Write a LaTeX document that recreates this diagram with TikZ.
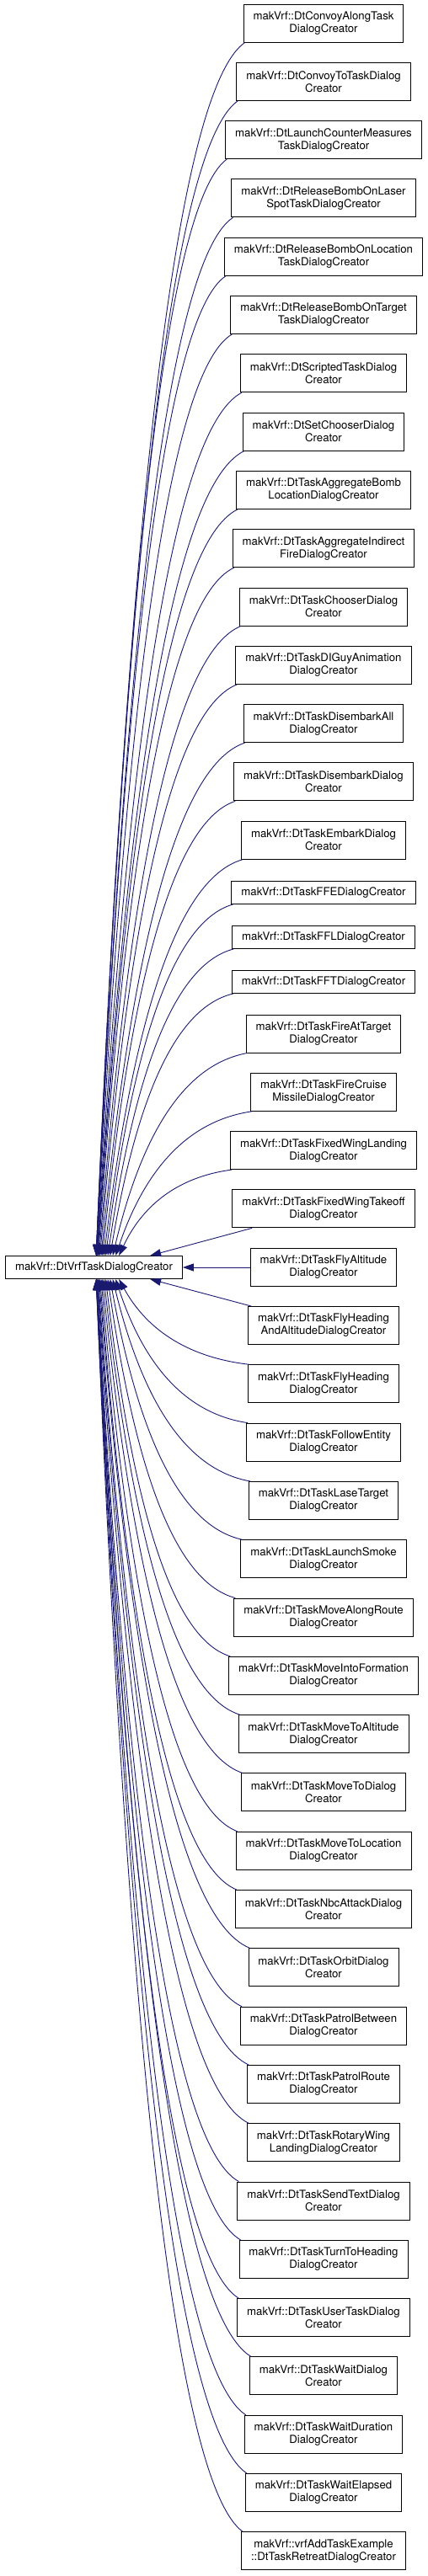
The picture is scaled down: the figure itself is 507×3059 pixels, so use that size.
\documentclass[tikz,border=0pt]{standalone}
\usepackage{fontspec}
\setmainfont{TeX Gyre Heros}
\usetikzlibrary{arrows.meta,calc}
\definecolor{edgeblue}{HTML}{191970}
\tikzset{
  box/.style={draw=black, line width=0.9pt, fill=white, align=center, inner xsep=11.5pt, inner ysep=0pt, minimum height=45pt, font=\fontsize{13.2}{15}\selectfont},
  sbox/.style={box, minimum height=27pt},
  edge/.style={draw=edgeblue, line width=0.9pt, -{Triangle[length=13pt,width=9pt]}}
}
\begin{document}
\begin{tikzpicture}[x=1pt,y=-1pt]
\useasboundingbox (0,0) rectangle (507,3059);
\node[sbox] (p) at (111.5,1505) {makVrf::DtVrfTaskDialogCreator};
\node[box] (n1) at (384,27.5) {makVrf::DtConvoyAlongTask\\DialogCreator};
\node[box] (n2) at (384,96.8) {makVrf::DtConvoyToTaskDialog\\Creator};
\node[box] (n3) at (384,166.1) {makVrf::DtLaunchCounterMeasures\\TaskDialogCreator};
\node[box] (n4) at (384,235.4) {makVrf::DtReleaseBombOnLaser\\SpotTaskDialogCreator};
\node[box] (n5) at (384,304.7) {makVrf::DtReleaseBombOnLocation\\TaskDialogCreator};
\node[box] (n6) at (384,374.0) {makVrf::DtReleaseBombOnTarget\\TaskDialogCreator};
\node[box] (n7) at (384,443.3) {makVrf::DtScriptedTaskDialog\\Creator};
\node[box] (n8) at (384,512.6) {makVrf::DtSetChooserDialog\\Creator};
\node[box] (n9) at (384,581.9) {makVrf::DtTaskAggregateBomb\\LocationDialogCreator};
\node[box] (n10) at (384,651.2) {makVrf::DtTaskAggregateIndirect\\FireDialogCreator};
\node[box] (n11) at (384,720.5) {makVrf::DtTaskChooserDialog\\Creator};
\node[box] (n12) at (384,789.8) {makVrf::DtTaskDIGuyAnimation\\DialogCreator};
\node[box] (n13) at (384,859.1) {makVrf::DtTaskDisembarkAll\\DialogCreator};
\node[box] (n14) at (384,928.4) {makVrf::DtTaskDisembarkDialog\\Creator};
\node[box] (n15) at (384,997.7) {makVrf::DtTaskEmbarkDialog\\Creator};
\node[sbox] (n16) at (384,1060) {makVrf::DtTaskFFEDialogCreator};
\node[sbox] (n17) at (384,1113) {makVrf::DtTaskFFLDialogCreator};
\node[sbox] (n18) at (384,1166) {makVrf::DtTaskFFTDialogCreator};
\node[box] (n19) at (384,1227.5) {makVrf::DtTaskFireAtTarget\\DialogCreator};
\node[box] (n20) at (384,1296.8) {makVrf::DtTaskFireCruise\\MissileDialogCreator};
\node[box] (n21) at (384,1366.1) {makVrf::DtTaskFixedWingLanding\\DialogCreator};
\node[box] (n22) at (384,1435.4) {makVrf::DtTaskFixedWingTakeoff\\DialogCreator};
\node[box] (n23) at (384,1505) {makVrf::DtTaskFlyAltitude\\DialogCreator};
\node[box] (n24) at (384,1574.0) {makVrf::DtTaskFlyHeading\\AndAltitudeDialogCreator};
\node[box] (n25) at (384,1643.3) {makVrf::DtTaskFlyHeading\\DialogCreator};
\node[box] (n26) at (384,1712.6) {makVrf::DtTaskFollowEntity\\DialogCreator};
\node[box] (n27) at (384,1781.9) {makVrf::DtTaskLaseTarget\\DialogCreator};
\node[box] (n28) at (384,1851.2) {makVrf::DtTaskLaunchSmoke\\DialogCreator};
\node[box] (n29) at (384,1920.5) {makVrf::DtTaskMoveAlongRoute\\DialogCreator};
\node[box] (n30) at (384,1989.8) {makVrf::DtTaskMoveIntoFormation\\DialogCreator};
\node[box] (n31) at (384,2059.1) {makVrf::DtTaskMoveToAltitude\\DialogCreator};
\node[box] (n32) at (384,2128.4) {makVrf::DtTaskMoveToDialog\\Creator};
\node[box] (n33) at (384,2197.7) {makVrf::DtTaskMoveToLocation\\DialogCreator};
\node[box] (n34) at (384,2267.0) {makVrf::DtTaskNbcAttackDialog\\Creator};
\node[box] (n35) at (384,2336.3) {makVrf::DtTaskOrbitDialog\\Creator};
\node[box] (n36) at (384,2405.6) {makVrf::DtTaskPatrolBetween\\DialogCreator};
\node[box] (n37) at (384,2474.9) {makVrf::DtTaskPatrolRoute\\DialogCreator};
\node[box] (n38) at (384,2544.2) {makVrf::DtTaskRotaryWing\\LandingDialogCreator};
\node[box] (n39) at (384,2613.5) {makVrf::DtTaskSendTextDialog\\Creator};
\node[box] (n40) at (384,2682.8) {makVrf::DtTaskTurnToHeading\\DialogCreator};
\node[box] (n41) at (384,2752.1) {makVrf::DtTaskUserTaskDialog\\Creator};
\node[box] (n42) at (384,2821.4) {makVrf::DtTaskWaitDialog\\Creator};
\node[box] (n43) at (384,2890.7) {makVrf::DtTaskWaitDuration\\DialogCreator};
\node[box] (n44) at (384,2960.0) {makVrf::DtTaskWaitElapsed\\DialogCreator};
\node[box] (n45) at (384,3029.3) {makVrf::vrfAddTaskExample\\::DtTaskRetreatDialogCreator};
% upper edges
\foreach \i in {1,...,21}{
  \pgfmathsetmacro\off{108+27*((\i-1)/20)^3}
  \draw[edge] let \p1=(n\i.south west), \p2=($(p.north west)+(\off,0)$), \n1={\x1-\x2}, \n2={\y1-\y2} in
    ({\x1+2pt},\y1) .. controls ({\x1-0.5*\n1},{\y1-0.04*\n2-5pt}) and ({\x2+0.2*\n1},{\y2+0.55*\n2}) .. (\x2,\y2);
}
% lower edges
\foreach \i in {25,...,45}{
  \pgfmathsetmacro\off{108+27*((45-\i)/20)^3}
  \draw[edge] let \p1=(n\i.north west), \p2=($(p.south west)+(\off,0)$), \n1={\x1-\x2}, \n2={\y2-\y1} in
    ({\x1+2pt},\y1) .. controls ({\x1-0.5*\n1},{\y1+0.04*\n2+5pt}) and ({\x2+0.2*\n1},{\y2-0.55*\n2}) .. (\x2,\y2);
}
\draw[edge] (n22) -- ($(p.north west)+(172,0)$);
\draw[edge] (n23) -- (p);
\draw[edge] (n24) -- ($(p.south west)+(172,0)$);
\end{tikzpicture}
\end{document}
